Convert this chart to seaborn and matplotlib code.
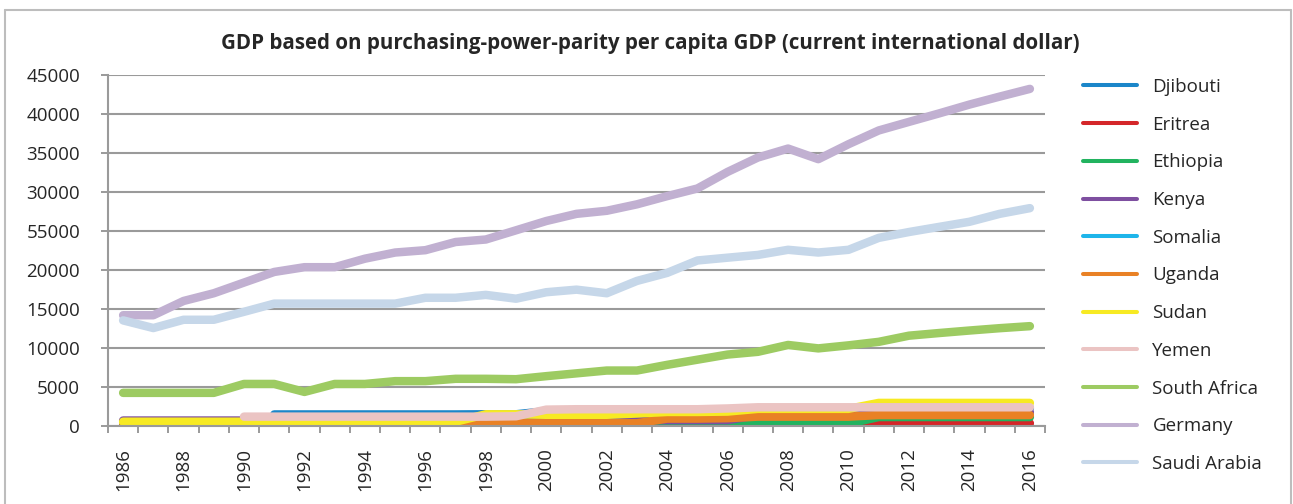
import numpy as np
import pandas as pd
import matplotlib
matplotlib.use("Agg")
import matplotlib.pyplot as plt
from matplotlib.lines import Line2D
import seaborn as sns

nan = np.nan

# ============= Data =============
years = list(range(1986, 2017))

djibouti = [nan, nan, nan, nan, nan, 1480, 1480, 1480, 1480, 1480, 1480, 1480,
            1500, 1500, 1900, 1950, 1950, 1950, 2000, 2000, 2050, 2150, 2150,
            2150, 2150, 2300, 2300, 2300, 2300, 2300, 2300]
eritrea = [0, 0, 0, 0, 0, 0, 0, 0, 0, 0, 0, 0, 0, 0, 0, 0, 0, 0, 0, 0, 0, 0,
           0, 0, 0, 350, 350, 350, 350, 350, 350]
ethiopia = [0, 0, 0, 0, 0, 0, 0, 0, 0, 0, 0, 0, 0, 0, 0, 0, 0, 0, 100, 100,
            100, 300, 300, 300, 300, 1150, 1150, 1150, 1150, 1150, 1150]
kenya = [700, 700, 700, 700, 700, 700, 700, 700, 700, 700, 700, 700, 700,
         900, 750, 750, 750, 750, 750, 750, 750, 1400, 1450, 1500, 1500,
         1750, 1750, 1750, 1750, 1750, 1750]
somalia = [nan] * 31  # no data, only appears in the legend
uganda = [0, 0, 0, 0, 0, 0, 0, 0, 0, 0, 0, 0, 350, 350, 350, 350, 350, 350,
          950, 950, 1000, 1200, 1200, 1200, 1200, 1400, 1400, 1400, 1400,
          1400, 1400]
sudan = [550, 550, 550, 550, 550, 550, 550, 550, 550, 550, 550, 550, 1500,
         1500, 1440, 1440, 1440, 1600, 1800, 1800, 1850, 2200, 2200, 2200,
         2200, 2960, 2960, 2960, 2960, 2960, 2960]
yemen = [nan, nan, nan, nan, 1200, 1200, 1200, 1200, 1200, 1200, 1200, 1200,
         1200, 1250, 2100, 2150, 2150, 2150, 2150, 2150, 2250, 2400, 2400,
         2400, 2400, 2400, 2400, 2400, 2400, 2400, 2400]
south_africa = [4250, 4250, 4250, 4250, 5390, 5390, 4370, 5390, 5390, 5750,
                5750, 6050, 6050, 6000, 6390, 6750, 7110, 7110, 7840, 8500,
                9160, 9510, 10390, 9950, 10340, 10790, 11580, 11920, 12240,
                12540, 12800]
germany = [14200, 14200, 16030, 17020, 18390, 19750, 20360, 20360, 21450,
           22240, 22540, 23590, 23910, 25090, 26280, 27200, 27590, 28420,
           29470, 30450, 32580, 34420, 35570, 34210, 36130, 37890, 38990,
           40080, 41210, 42230, 43220]
saudi_arabia = [13540, 12560, 13620, 13620, 14640, 15690, 15690, 15690, 15690,
                15690, 16440, 16440, 16810, 16320, 17150, 17480, 17020, 18600,
                19630, 21220, 21580, 21930, 22590, 22240, 22590, 24120, 24870,
                25530, 26180, 27200, 27930]

countries = ["Djibouti", "Eritrea", "Ethiopia", "Kenya", "Somalia", "Uganda",
             "Sudan", "Yemen", "South Africa", "Germany", "Saudi Arabia"]
series = [djibouti, eritrea, ethiopia, kenya, somalia, uganda, sudan, yemen,
          south_africa, germany, saudi_arabia]
colors = ["#1B86C9", "#D42629", "#22B35F", "#7E4FA0", "#1EB5EA", "#E98125",
          "#F7EA23", "#EBC4C3", "#9DCB62", "#C1B0D1", "#C6D7E9"]

# y tick labels exactly as printed on the original (note the "55000")
ytick_values = [0, 5000, 10000, 15000, 20000, 25000, 30000, 35000, 40000, 45000]
ytick_labels = ["0", "5000", "10000", "15000", "20000", "55000", "30000",
                "35000", "40000", "45000"]

title = "GDP based on purchasing-power-parity per capita GDP (current international dollar)"

# long-form table for seaborn
df = pd.DataFrame({
    "year": np.tile(years, len(countries)),
    "country": np.repeat(countries, len(years)),
    "gdp": np.concatenate([np.array(s, dtype=float) for s in series]),
}).dropna()
palette = dict(zip(countries, colors))
hue_order = [c for c in countries if c in set(df["country"])]

# ============= Plot =============
sns.set_theme(style="white")
plt.rcParams["font.family"] = ["Open Sans", "DejaVu Sans"]

W, H = 1293, 504
fig = plt.figure(figsize=(W / 100, H / 100), dpi=100)
ax = fig.add_axes([108 / W, 1 - 426 / H, (1045 - 108) / W, (426 - 75) / H])

grey = "#9a9a9a"
sns.lineplot(data=df, x="year", y="gdp", hue="country", hue_order=hue_order,
             palette=palette, linewidth=6.1, legend=False, ax=ax,
             solid_capstyle="round", solid_joinstyle="round")

ax.set_xlim(1985.5, 2016.5)
ax.set_ylim(0, 45000)
ax.set_xlabel("")
ax.set_ylabel("")

ax.set_yticks(ytick_values)
ax.set_yticklabels(ytick_labels)
ax.set_xticks(years[::2])
ax.set_xticklabels([str(y) for y in years[::2]], rotation=90)
ax.set_xticks(np.arange(1985.5, 2017, 1), minor=True)

ax.tick_params(axis="y", which="major", length=5, width=1.4, color=grey,
               direction="out", pad=15, labelsize=13.5, left=True)
ax.tick_params(axis="x", which="major", length=0, pad=16, labelsize=13.5)
ax.tick_params(axis="x", which="minor", length=5, width=1.4, color=grey,
               direction="out", bottom=True)

ax.grid(axis="y", color=grey, linewidth=1.5)
ax.grid(axis="x", visible=False)
ax.set_axisbelow(True)
for side in ["top", "right"]:
    ax.spines[side].set_visible(False)
for side in ["left", "bottom"]:
    ax.spines[side].set_color(grey)
    ax.spines[side].set_linewidth(1.5)

fig.text(650 / W, 1 - 44 / H, title, ha="center", va="center",
         fontsize=14.8, fontweight="bold")

handles = [Line2D([], [], color=c, linewidth=2.9, solid_capstyle="round")
           for c in colors]
ax.legend(handles, countries, loc="upper left",
          bbox_to_anchor=(1083 / W, 1 - 78 / H), bbox_transform=fig.transFigure,
          frameon=False, fontsize=13.5, handlelength=2.9, handletextpad=0.8,
          labelspacing=1.05, borderpad=0, borderaxespad=0)

# thin frame around the chart
border = "#bdbdbd"
fig.add_artist(Line2D([5 / W, 5 / W], [0, 1 - 10 / H], transform=fig.transFigure,
                      color=border, linewidth=1.5))
fig.add_artist(Line2D([5 / W, 1291 / W], [1 - 10 / H, 1 - 10 / H],
                      transform=fig.transFigure, color=border, linewidth=1.5))
fig.add_artist(Line2D([1291 / W, 1291 / W], [0, 1 - 10 / H],
                      transform=fig.transFigure, color=border, linewidth=1.5))

fig.savefig("out.png", dpi=100)
